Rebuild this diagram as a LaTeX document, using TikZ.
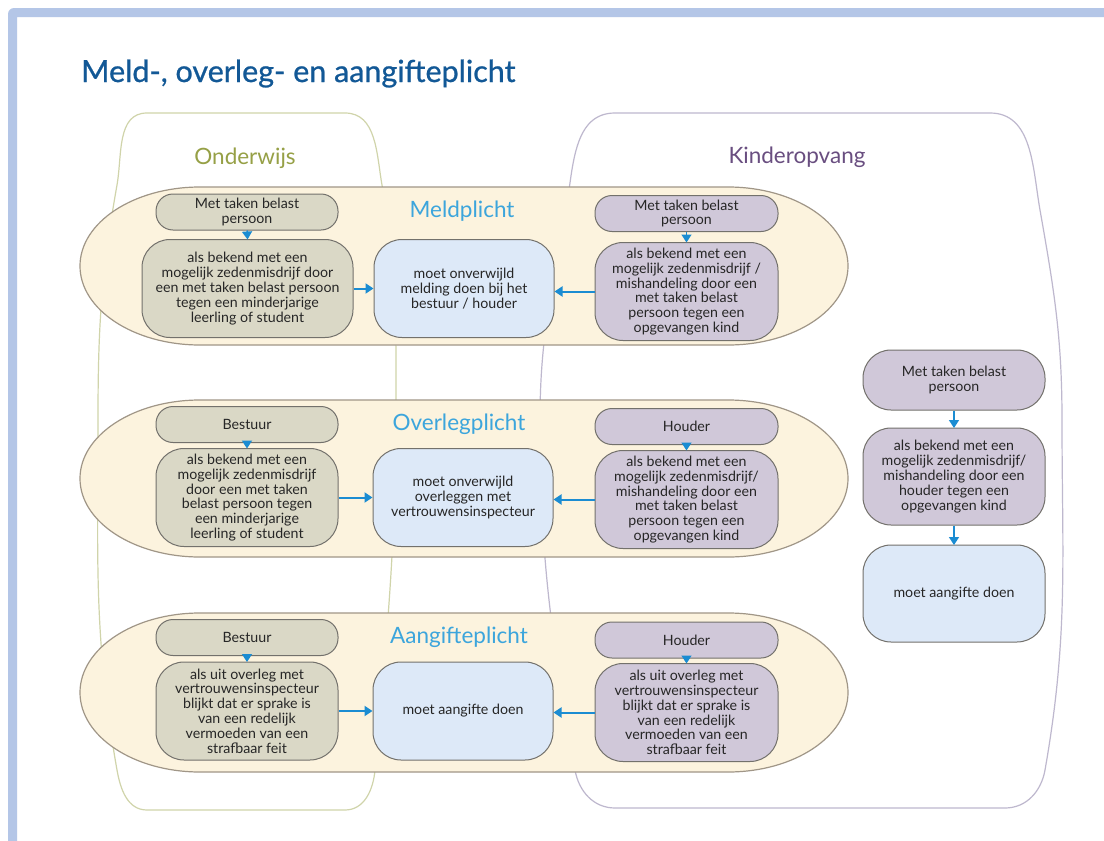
\documentclass[tikz,border=0pt]{standalone}
\usepackage{fontspec}
\setmainfont{Lato}
\usetikzlibrary{arrows.meta}
\definecolor{framec}{RGB}{180,198,231}
\definecolor{titlec}{RGB}{18,88,150}
\definecolor{bandt}{RGB}{60,165,220}
\definecolor{bandfill}{RGB}{252,243,222}
\definecolor{bandline}{RGB}{160,150,135}
\definecolor{ofill}{RGB}{218,216,198}
\definecolor{kfill}{RGB}{208,200,217}
\definecolor{bfill}{RGB}{221,233,248}
\definecolor{boxline}{RGB}{115,113,108}
\definecolor{onderc}{RGB}{150,160,70}
\definecolor{kinderc}{RGB}{105,78,128}
\definecolor{onderline}{RGB}{208,212,170}
\definecolor{kinderline}{RGB}{190,184,206}
\definecolor{arrc}{RGB}{27,140,210}
\definecolor{txt}{RGB}{38,38,38}
\tikzset{
  x=1pt, y=1pt,
  basebox/.style={draw=boxline, line width=1pt, align=center, text=txt,
    font=\fontsize{14.2}{14.8}\selectfont, inner sep=1pt},
  pillO/.style={basebox, fill=ofill, rounded corners=17, minimum width=182, minimum height=36},
  pillK/.style={basebox, fill=kfill, rounded corners=17, minimum width=183, minimum height=36},
  boxO/.style={basebox, fill=ofill, rounded corners=28, minimum height=98},
  boxK/.style={basebox, fill=kfill, rounded corners=28, minimum width=183, minimum height=98},
  boxB/.style={basebox, fill=bfill, rounded corners=28, minimum width=180, minimum height=98},
  band/.style={fill=bandfill, draw=bandline, line width=1.2pt},
  bandtitle/.style={text=bandt, font=\fontsize{22.5}{24}\selectfont},
  arr/.style={draw=arrc, line width=2pt, -{Triangle[length=8pt,width=10pt]}},
  sarr/.style={draw=arrc, line width=1.5pt, -{Triangle[length=8pt,width=10pt]}, shorten >=-0.5pt},
}
\begin{document}
\begin{tikzpicture}
\useasboundingbox (0,0) rectangle (1104,-841);
\fill[white] (0,0) rectangle (1104,-841);
% frame
\fill[framec] (8,-14) arc[start angle=180,end angle=90,radius=6] -- (1104,-8) -- (1104,-17) -- (17,-17) -- (17,-841) -- (8,-841) -- cycle;
% title
\node[anchor=base west, text=titlec, font=\fontsize{30.5}{33}\selectfont\addfontfeature{FakeBold=0.8}, inner sep=0] (title) at (81,-82) {Meld-, overleg- en aangifteplicht};
% columns
\draw[onderline, line width=1.2pt] (147,-113) -- (345,-113) to[out=0,in=100] (382,-185) to[out=-80,in=90] (396,-400) to[out=-90,in=85] (375,-770) to[out=-95,in=0] (345,-810) -- (147,-810) to[out=180,in=-80] (117,-770) to[out=100,in=-90] (98,-420) to[out=90,in=-100] (117,-185) to[out=80,in=180] cycle;
\draw[kinderline, line width=1.2pt] (615,-113) -- (990,-113) to[out=0,in=100] (1040,-210) to[out=-80,in=90] (1062,-420) to[out=-90,in=80] (1045,-770) to[out=-100,in=0] (1005,-808) -- (615,-808) to[out=180,in=-80] (575,-770) to[out=100,in=-90] (540,-420) to[out=90,in=-100] (566,-210) to[out=80,in=180] cycle;
\node[text=onderc, font=\fontsize{22.5}{24}\selectfont] (onderwijs) at (245,-158) {Onderwijs};
\node[text=kinderc, font=\fontsize{22.5}{24}\selectfont] (kinderopvang) at (797,-157) {Kinderopvang};
% bands
\filldraw[band] (200,-187) -- (728,-187) arc[start angle=90,end angle=-90,x radius=120,y radius=79] -- (200,-345) arc[start angle=270,end angle=90,x radius=120,y radius=79] -- cycle;
\filldraw[band] (200,-400) -- (728,-400) arc[start angle=90,end angle=-90,x radius=120,y radius=78.5] -- (200,-557) arc[start angle=270,end angle=90,x radius=120,y radius=78.5] -- cycle;
\filldraw[band] (200,-613) -- (728,-613) arc[start angle=90,end angle=-90,x radius=120,y radius=79.5] -- (200,-772) arc[start angle=270,end angle=90,x radius=120,y radius=79.5] -- cycle;
\node[bandtitle] (t1) at (462,-211) {Meldplicht};
\node[bandtitle] (t2) at (459,-424) {Overlegplicht};
\node[bandtitle] (t3) at (459,-637) {Aangifteplicht};
% band 1
\node[pillO] (po1) at (247,-212) {Met taken belast\\persoon};
\node[boxO, minimum width=211] (bo1) at (247.5,-288.5) {als bekend met een\\mogelijk zedenmisdrijf door\\een met taken belast persoon\\tegen een minderjarige\\leerling of student};
\node[boxB] (m1) at (464,-288.5) {moet onverwijld\\melding doen bij het\\bestuur / houder};
\node[pillK] (pk1) at (686.5,-213.5) {Met taken belast\\persoon};
\node[boxK] (bk1) at (686.5,-291.5) {als bekend met een\\mogelijk zedenmisdrijf /\\mishandeling door een\\met taken belast\\persoon tegen een\\opgevangen kind};
% band 2
\node[pillO] (po2) at (247,-424.5) {Bestuur};
\node[boxO, minimum width=182] (bo2) at (247,-497.5) {als bekend met een\\mogelijk zedenmisdrijf\\door een met taken\\belast persoon tegen\\een minderjarige\\leerling of student};
\node[boxB] (m2) at (463,-497.5) {moet onverwijld\\overleggen met\\vertrouwensinspecteur};
\node[pillK] (pk2) at (686.5,-426.5) {Houder};
\node[boxK] (bk2) at (686.5,-499.5) {als bekend met een\\mogelijk zedenmisdrijf/\\mishandeling door een\\met taken belast\\persoon tegen een\\opgevangen kind};
% band 3
\node[pillO] (po3) at (247,-637.5) {Bestuur};
\node[boxO, minimum width=182] (bo3) at (247,-711) {als uit overleg met\\vertrouwensinspecteur\\blijkt dat er sprake is\\van een redelijk\\vermoeden van een\\strafbaar feit};
\node[boxB] (m3) at (463,-711) {moet aangifte doen};
\node[pillK] (pk3) at (686.5,-640) {Houder};
\node[boxK] (bk3) at (686.5,-712.5) {als uit overleg met\\vertrouwensinspecteur\\blijkt dat er sprake is\\van een redelijk\\vermoeden van een\\strafbaar feit};
% right column
\node[pillK, minimum width=182, minimum height=60, rounded corners=28] (pr) at (954,-380) {Met taken belast\\persoon};
\node[boxK, minimum width=182, minimum height=97] (br) at (954,-476.5) {als bekend met een\\mogelijk zedenmisdrijf/\\mishandeling door een\\houder tegen een\\opgevangen kind};
\node[boxB, minimum width=182, minimum height=97] (mr) at (954,-593.5) {moet aangifte doen};
% arrows
\draw[sarr] (po1.south) -- (bo1.north);
\draw[sarr] (pk1.south) -- (bk1.north);
\draw[sarr] (po2.south) -- (bo2.north);
\draw[sarr] (pk2.south) -- (bk2.north);
\draw[sarr] (po3.south) -- (bo3.north);
\draw[sarr] (pk3.south) -- (bk3.north);
\draw[sarr] (pr.south) -- (br.north);
\draw[sarr] (br.south) -- (mr.north);
\draw[arr] (bo1.east) -- (m1.west);
\draw[arr] (bk1.west) -- (m1.east |- bk1.west);
\draw[arr] (bo2.east) -- (m2.west);
\draw[arr] (bk2.west) -- (m2.east |- bk2.west);
\draw[arr] (bo3.east) -- (m3.west);
\draw[arr] (bk3.west) -- (m3.east |- bk3.west);
\end{tikzpicture}
\end{document}
